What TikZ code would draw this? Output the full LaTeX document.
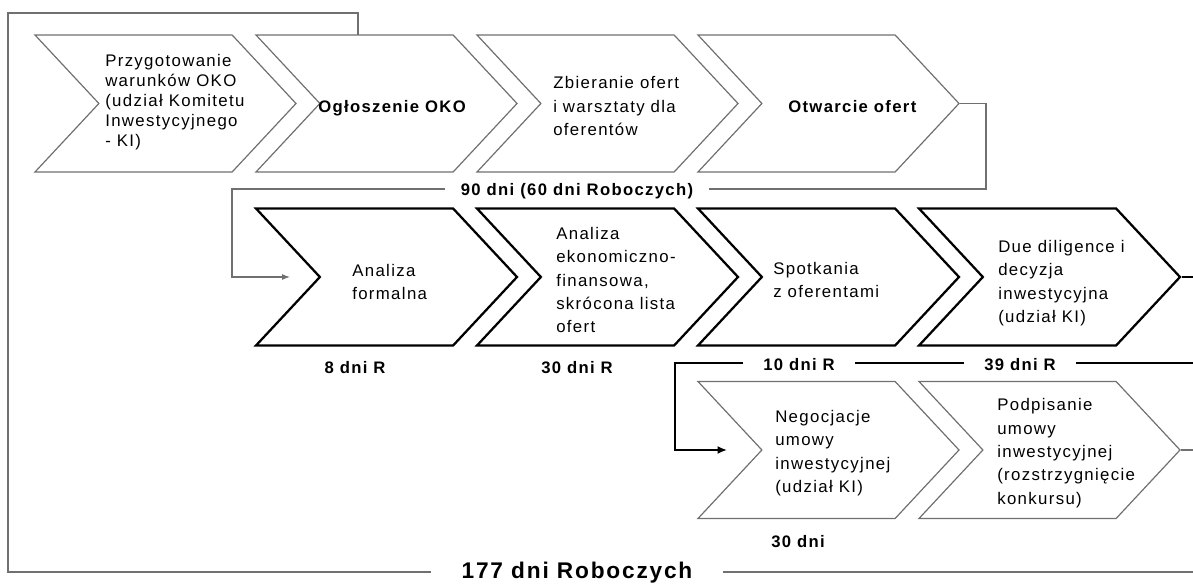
\documentclass[tikz,border=0pt]{standalone}
\usepackage{fontspec}
\setmainfont{Liberation Sans}[LetterSpace=8]
\usetikzlibrary{shapes.symbols,arrows.meta,positioning}
\definecolor{framegray}{HTML}{707070}

\begin{document}
\begin{tikzpicture}[x=0.75pt,y=-0.75pt,
  every node/.style={font=\fontsize{12.6}{17.5}\selectfont},
  chev/.style={signal,signal from=west,signal to=east,signal pointer angle=94,
    minimum width=195.75pt,minimum height=102.75pt,inner sep=0pt},
  chl/.style={chev,draw=framegray,line width=0.9pt},
  chk/.style={chev,draw=black,line width=1.7pt},
  txt/.style={anchor=west,align=left,inner sep=0pt},
  lbl/.style={font=\fontsize{12.5}{15}\selectfont\bfseries,fill=white,inner ysep=2pt},
  gln/.style={draw=framegray,line width=0.8pt},
  kln/.style={draw=black,line width=1.5pt},
  fln/.style={draw=framegray,line width=1.2pt}]
\useasboundingbox (0,0) rectangle (1193,584);
% chevrons: row 1 and 3 thin gray, row 2 thick black
\foreach \n/\cx in {1/165.5,2/386.5,3/607.5,4/828.5}
  \node[chl] (c\n) at (\cx,103.5) {};
\foreach \n/\cx in {5/386.5,6/607.5,7/828.5,8/1049.5}
  \node[chk] (c\n) at (\cx,277) {};
\foreach \n/\cx in {9/828.5,10/1049.5}
  \node[chl] (c\n) at (\cx,450) {};
%------------- texts in the chevrons
\node[txt,font=\fontsize{12.6}{15}\selectfont] (t1) at (105,102)
  {Przygotowanie\\warunków OKO\\(udział Komitetu\\Inwestycyjnego\\ - KI)};
\node[txt,font=\fontsize{12.5}{15}\selectfont\bfseries] (t2) at (318,108) {Ogłoszenie OKO};
\node[txt] (t3) at (553,106) {Zbieranie ofert\\i warsztaty dla\\oferentów};
\node[txt,font=\fontsize{12.5}{15}\selectfont\bfseries] (t4) at (788,107) {Otwarcie ofert};
\node[txt] (t5) at (352,282) {Analiza\\formalna};
\node[txt] (t6) at (556,280) {Analiza\\ekonomiczno-\\finansowa,\\skrócona lista\\ofert};
\node[txt] (t7) at (773,280) {Spotkania\\z oferentami};
\node[txt] (t8) at (998,283) {Due diligence i\\decyzja\\inwestycyjna\\(udział KI)};
\node[txt] (t9) at (775,453) {Negocjacje\\umowy\\inwestycyjnej\\(udział KI)};
\node[txt] (t10) at (997,453) {Podpisanie\\umowy\\inwestycyjnej\\(rozstrzygnięcie\\konkursu)};
%------------- outer frame
\coordinate (f0) at (358,35);
\coordinate (f1) at (358,13);
\coordinate (f2) at (8,13);
\coordinate (f3) at (8,572);
\coordinate (f4) at (1193,572);
\draw[fln] (f0) -- (f1) -- (f2) -- (f3) -- (f4);
\node[lbl,font=\fontsize{17}{19}\selectfont\bfseries,inner xsep=23pt] (l177) at (577,573) {177 dni Roboczych};
%------------- row 1 -> row 2
\coordinate (b1) at (986,189);
\coordinate (b2) at (232,189);
\coordinate (in5) at (290,277);
\draw[gln,-{Latex[length=6pt,width=4.5pt]}] (c4.east) -| (b1) -- (b2) |- (in5);
\node[lbl,inner xsep=12pt] (l90) at (577,191) {90 dni (60 dni Roboczych)};
%------------- row 2 -> row 3
\coordinate (e8) at (1193,277);
\draw[kln] (c8.east) -- (e8);
\coordinate (e39) at (1193,363);
\coordinate (b3) at (675,363);
\coordinate (in9) at (727,450);
\draw[kln,-{Latex[length=7pt,width=6pt]}] (e39) -- (b3) |- (in9);
\node[lbl,inner xsep=15pt] (l10) at (799,365) {10 dni R};
\node[lbl,inner xsep=15pt] (l39) at (1020,365) {39 dni R};
\coordinate (e10) at (1193,450);
\draw[gln] (c10.east) -- (e10);
%------------- durations
\node[lbl] (l8) at (355,368) {8 dni R};
\node[lbl] (l30) at (577,368) {30 dni R};
\node[lbl] (l30d) at (798,542) {30 dni};
\end{tikzpicture}
\end{document}
